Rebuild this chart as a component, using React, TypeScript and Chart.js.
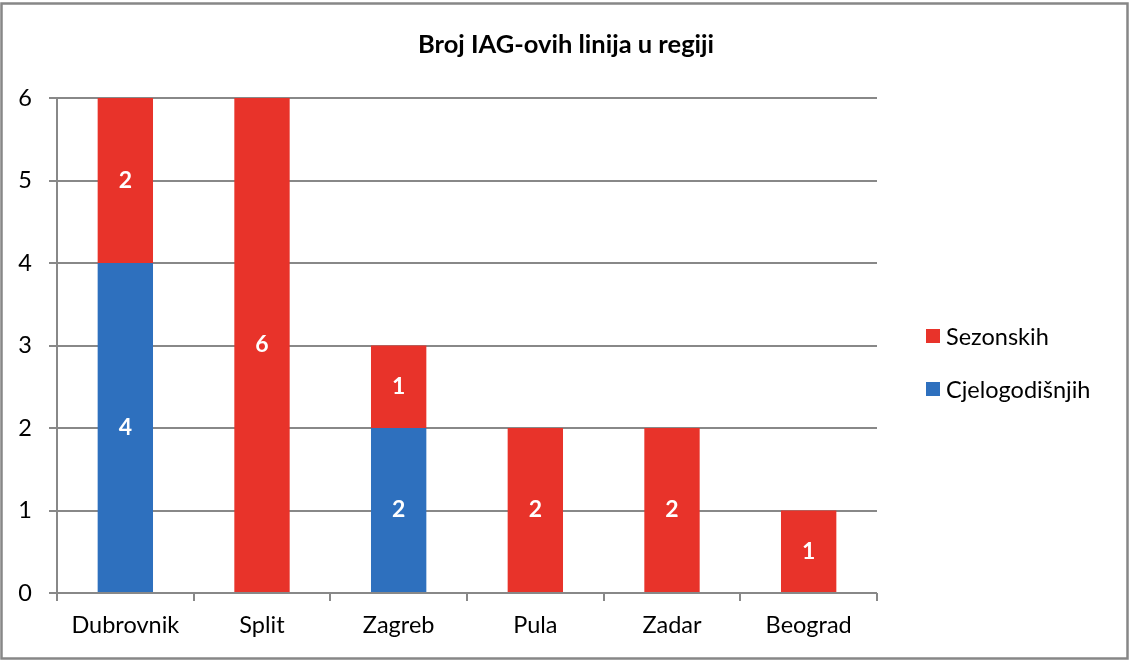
import React, { useEffect, useRef } from "react";
import { Chart, registerables } from "chart.js";

Chart.register(...registerables);

const categories = ["Dubrovnik", "Split", "Zagreb", "Pula", "Zadar", "Beograd"];
const cjelogodisnjih = [4, 0, 2, 0, 0, 0];
const sezonskih = [2, 6, 1, 2, 2, 1];
const yTicks = [0, 1, 2, 3, 4, 5, 6];
const titleText = "Broj IAG-ovih linija u regiji";

const RED = "#E8332A";
const BLUE = "#2E70BE";
const GRID = "#888888";
const FONT = "Lato, 'Open Sans', sans-serif";

const framePlugin = {
  id: "frame",
  beforeDraw(chart: any) {
    const ctx = chart.ctx;
    ctx.save();
    ctx.fillStyle = "#ffffff";
    ctx.fillRect(0, 0, chart.width, chart.height);
    ctx.strokeStyle = "#878787";
    ctx.lineWidth = 2.5;
    ctx.strokeRect(1.5, 3.5, chart.width - 4, chart.height - 5);
    ctx.restore();
  },
  afterDraw(chart: any) {
    const ctx = chart.ctx;
    ctx.save();
    // title
    ctx.fillStyle = "#000";
    ctx.font = `bold 25.5px ${FONT}`;
    ctx.textAlign = "center";
    ctx.textBaseline = "middle";
    ctx.fillText(titleText, 566, 45);
    // data labels
    ctx.font = `bold 23px ${FONT}`;
    ctx.fillStyle = "#ffffff";
    chart.data.datasets.forEach((ds: any, i: number) => {
      const meta = chart.getDatasetMeta(i);
      meta.data.forEach((bar: any, j: number) => {
        const v = ds.data[j];
        if (!v) return;
        const cy = (bar.y + bar.base) / 2;
        ctx.fillText(String(v), bar.x, cy);
      });
    });
    // legend (reverse order)
    const items = chart.data.datasets.map((d: any) => ({ label: d.label, color: d.backgroundColor })).reverse();
    ctx.font = `23.5px ${FONT}`;
    ctx.textAlign = "left";
    items.forEach((it: any, k: number) => {
      const y = 336 + k * 53;
      ctx.fillStyle = it.color;
      ctx.fillRect(926, y - 7, 14, 14);
      ctx.fillStyle = "#000";
      ctx.fillText(it.label, 946, y + 1);
    });
    ctx.restore();
  },
};

export default function App() {
  const ref = useRef<HTMLCanvasElement>(null);
  useEffect(() => {
    document.body.style.margin = "0";
    const chart = new Chart(ref.current!, {
      type: "bar",
      data: {
        labels: categories,
        datasets: [
          { label: "Cjelogodišnjih", data: cjelogodisnjih, backgroundColor: BLUE, categoryPercentage: 1, barPercentage: 0.405 },
          { label: "Sezonskih", data: sezonskih, backgroundColor: RED, categoryPercentage: 1, barPercentage: 0.405 },
        ],
      },
      options: {
        animation: false,
        responsive: false,
        devicePixelRatio: 1,
        layout: { padding: { left: 0, right: 253, top: 98, bottom: 0 } },
        plugins: { legend: { display: false }, title: { display: false }, tooltip: { enabled: false } },
        scales: {
          x: {
            stacked: true,
            grid: { display: true, drawOnChartArea: false, drawTicks: true, tickLength: 8, color: GRID, lineWidth: 2, offset: true },
            border: { display: false },
            ticks: { color: "#000", font: { family: FONT, size: 23.5 }, padding: 10, maxRotation: 0 },
            afterFit: (s: any) => { s.height = 67; },
          },
          y: {
            stacked: true,
            min: 0,
            max: 6,
            afterBuildTicks: (s: any) => { s.ticks = yTicks.map((v) => ({ value: v })); },
            grid: { color: GRID, lineWidth: 2, tickLength: 8 },
            border: { display: true, color: GRID, width: 2 },
            ticks: { color: "#000", font: { family: FONT, size: 23.5 }, padding: 17 },
            afterFit: (s: any) => { s.width = 57; },
          },
        },
      },
      plugins: [framePlugin],
    });
    return () => chart.destroy();
  }, []);
  return (
    <div style={{ position: "fixed", left: 0, top: 0, width: 1130, height: 660 }}>
      <canvas ref={ref} width={1130} height={660} style={{ width: 1130, height: 660 }} />
    </div>
  );
}
